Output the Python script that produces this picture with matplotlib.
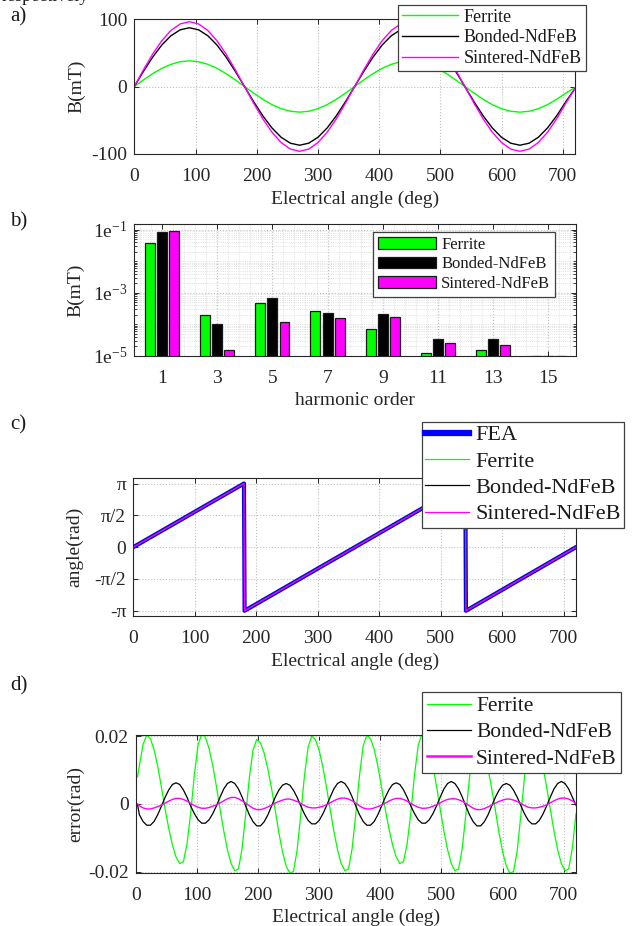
import numpy as np
import matplotlib.pyplot as plt
from matplotlib.ticker import FixedLocator, NullFormatter

plt.rcParams['font.family'] = ['Liberation Serif', 'DejaVu Serif']
plt.rcParams['axes.unicode_minus'] = False
plt.rcParams['mathtext.fontset'] = 'custom'
plt.rcParams['mathtext.rm'] = 'Liberation Serif'
plt.rcParams['mathtext.it'] = 'Liberation Serif:italic'

names = ['Ferrite', 'Bonded-NdFeB', 'Sintered-NdFeB']
colors = ['#00ff00', 'black', '#ff00ff']

# a) air-gap flux density over two electrical periods (mT)
theta_a = np.arange(0, 721, 15)
ferrite_a = [0, 9.8, 19.0, 26.9, 32.9, 36.7, 38.0, 36.7, 32.9, 26.9, 19.0, 9.8,
             0, -9.8, -19.0, -26.9, -32.9, -36.7, -38.0, -36.7, -32.9, -26.9, -19.0, -9.8,
             0, 9.8, 19.0, 26.9, 32.9, 36.7, 38.0, 36.7, 32.9, 26.9, 19.0, 9.8,
             0, -9.8, -19.0, -26.9, -32.9, -36.7, -38.0, -36.7, -32.9, -26.9, -19.0, -9.8, -1.5]
bonded_a = [0, 22.5, 43.5, 61.5, 75.3, 84.0, 87.0, 84.0, 75.3, 61.5, 43.5, 22.5,
            0, -22.5, -43.5, -61.5, -75.3, -84.0, -87.0, -84.0, -75.3, -61.5, -43.5, -22.5,
            0, 22.5, 43.5, 61.5, 75.3, 84.0, 87.0, 84.0, 75.3, 61.5, 43.5, 22.5,
            0, -22.5, -43.5, -61.5, -75.3, -84.0, -87.0, -84.0, -75.3, -61.5, -43.5, -22.5, -3.0]
sintered_a = [0, 24.8, 48.0, 67.9, 83.1, 92.7, 96.0, 92.7, 83.1, 67.9, 48.0, 24.8,
              0, -24.8, -48.0, -67.9, -83.1, -92.7, -96.0, -92.7, -83.1, -67.9, -48.0, -24.8,
              0, 24.8, 48.0, 67.9, 83.1, 92.7, 96.0, 92.7, 83.1, 67.9, 48.0, 24.8,
              0, -24.8, -48.0, -67.9, -83.1, -92.7, -96.0, -92.7, -83.1, -67.9, -48.0, -24.8, -3.0]

# b) harmonic spectrum
orders = [1, 3, 5, 7, 9, 11, 13, 15]
ferrite_b = [0.038, 1.95e-4, 4.9e-4, 2.6e-4, 7.0e-5, 1.2e-5, 1.5e-5, 1.0e-5]
bonded_b = [0.087, 1.04e-4, 6.8e-4, 2.3e-4, 2.05e-4, 3.3e-5, 3.5e-5, 1.0e-5]
sintered_b = [0.096, 1.55e-5, 1.15e-4, 1.54e-4, 1.75e-4, 2.6e-5, 2.2e-5, 1.0e-5]

# c) estimated rotor angle (wrapped), FEA reference
theta_c = [0, 180, 181, 540, 541, 720]
angle_fea = [0, np.pi, -np.pi, np.pi, -np.pi, 0]

# d) angle estimation error (rad)
theta_d = [3] + list(range(6, 721, 6))
ferrite_d = [0.0080, 0.0112, 0.0175,
             0.0203, 0.0192, 0.0160, 0.0111, 0.0050, -0.0015, -0.0072, -0.0121, -0.0157, -0.0176, -0.0171, -0.0117, -0.0025, 0.0086, 0.0174,
             0.0207, 0.0196, 0.0163, 0.0113, 0.0051, -0.0016, -0.0080, -0.0135, -0.0176, -0.0197, -0.0192, -0.0131, -0.0029, 0.0079, 0.0160,
             0.0190, 0.0180, 0.0150, 0.0104, 0.0047, -0.0017, -0.0084, -0.0141, -0.0183, -0.0205, -0.0199, -0.0136, -0.0030, 0.0083, 0.0168,
             0.0200, 0.0189, 0.0158, 0.0109, 0.0049, -0.0016, -0.0080, -0.0135, -0.0176, -0.0197, -0.0192, -0.0131, -0.0029, 0.0084, 0.0171,
             0.0203, 0.0192, 0.0161, 0.0111, 0.0050, -0.0015, -0.0072, -0.0121, -0.0157, -0.0176, -0.0170, -0.0116, -0.0025, 0.0086, 0.0173,
             0.0206, 0.0195, 0.0163, 0.0113, 0.0051, -0.0016, -0.0080, -0.0135, -0.0176, -0.0197, -0.0192, -0.0131, -0.0029, 0.0080, 0.0161,
             0.0191, 0.0180, 0.0150, 0.0104, 0.0047, -0.0017, -0.0084, -0.0141, -0.0183, -0.0205, -0.0199, -0.0136, -0.0030, 0.0083, 0.0168,
             0.0200, 0.0189, 0.0158, 0.0109, 0.0049, -0.0016, -0.0080, -0.0135, -0.0176, -0.0197, -0.0192, -0.0131, -0.0029]
bonded_d = [-0.0002,
            -0.0032, -0.0052, -0.0063, -0.0063, -0.0052, -0.0032, -0.0007, 0.0019, 0.0041, 0.0057, 0.0062, 0.0057, 0.0041, 0.0019, -0.0007,
            -0.0029, -0.0047, -0.0057, -0.0057, -0.0047, -0.0029, -0.0006, 0.0020, 0.0044, 0.0060, 0.0066, 0.0060, 0.0044, 0.0020, -0.0007,
            -0.0033, -0.0053, -0.0065, -0.0065, -0.0053, -0.0033, -0.0007, 0.0019, 0.0040, 0.0055, 0.0060, 0.0055, 0.0040, 0.0019, -0.0006,
            -0.0030, -0.0049, -0.0059, -0.0059, -0.0049, -0.0030, -0.0006, 0.0020, 0.0044, 0.0060, 0.0066, 0.0060, 0.0044, 0.0020, -0.0007,
            -0.0032, -0.0052, -0.0063, -0.0063, -0.0052, -0.0032, -0.0007, 0.0019, 0.0041, 0.0057, 0.0062, 0.0057, 0.0041, 0.0019, -0.0007,
            -0.0029, -0.0047, -0.0057, -0.0057, -0.0047, -0.0029, -0.0006, 0.0020, 0.0044, 0.0060, 0.0066, 0.0060, 0.0044, 0.0020, -0.0007,
            -0.0033, -0.0053, -0.0065, -0.0065, -0.0053, -0.0033, -0.0007, 0.0019, 0.0040, 0.0055, 0.0060, 0.0055, 0.0040, 0.0019, -0.0006,
            -0.0030, -0.0049, -0.0059, -0.0059, -0.0049, -0.0030, -0.0006, 0.0020, 0.0044, 0.0060, 0.0066, 0.0060, 0.0044, 0.0020, -0.0004]
sintered_d = [0.0000,
              -0.0006, -0.0012, -0.0015, -0.0015, -0.0012, -0.0008, -0.0004, 0.0002, 0.0008, 0.0013, 0.0016, 0.0016, 0.0013, 0.0008, 0.0001,
              -0.0005, -0.0010, -0.0013, -0.0013, -0.0011, -0.0007, -0.0003, 0.0003, 0.0009, 0.0015, 0.0019, 0.0019, 0.0015, 0.0009, 0.0002,
              -0.0006, -0.0013, -0.0017, -0.0017, -0.0014, -0.0009, -0.0004, 0.0002, 0.0007, 0.0011, 0.0014, 0.0014, 0.0011, 0.0007, 0.0001,
              -0.0005, -0.0010, -0.0012, -0.0012, -0.0010, -0.0007, -0.0003, 0.0003, 0.0009, 0.0014, 0.0017, 0.0017, 0.0014, 0.0009, 0.0002,
              -0.0006, -0.0012, -0.0015, -0.0015, -0.0012, -0.0008, -0.0004, 0.0002, 0.0008, 0.0013, 0.0016, 0.0016, 0.0013, 0.0008, 0.0001,
              -0.0005, -0.0010, -0.0013, -0.0013, -0.0011, -0.0007, -0.0003, 0.0003, 0.0009, 0.0013, 0.0015, 0.0015, 0.0012, 0.0008, 0.0001,
              -0.0006, -0.0013, -0.0017, -0.0017, -0.0014, -0.0009, -0.0004, 0.0002, 0.0007, 0.0011, 0.0014, 0.0014, 0.0011, 0.0007, 0.0001,
              -0.0005, -0.0010, -0.0012, -0.0012, -0.0010, -0.0007, -0.0003, 0.0003, 0.0009, 0.0014, 0.0017, 0.0017, 0.0014, 0.0009, 0.0000]

W, H = 633, 926
fig = plt.figure(figsize=(W / 100, H / 100), dpi=100)
dark = '0.15'
fs = 14


def px_axes(l, r, t, b):
    return fig.add_axes([l / W, 1 - b / H, (r - l) / W, (b - t) / H])


def style(ax, ylab_x):
    for s in ax.spines.values():
        s.set_color(dark)
        s.set_linewidth(0.8)
    ax.tick_params(direction='in', top=True, right=True, length=3.5, width=0.7,
                   color=dark, labelcolor=dark, labelsize=fs)
    ax.tick_params(axis='x', pad=10)
    ax.tick_params(axis='y', pad=5)
    ax.grid(True, linestyle=':', color='0.75', linewidth=0.8)
    ax.set_axisbelow(True)
    ax.yaxis.set_label_coords(ylab_x, 0.5)


def legend(ax, handles_labels, x, y, size, spacing, hlen, pad, tpad=0.3):
    h, l = handles_labels
    lg = ax.legend(h, l, loc='upper left', bbox_to_anchor=(x / W, 1 - y / H),
                   bbox_transform=fig.transFigure, borderaxespad=0, fontsize=size,
                   fancybox=False, framealpha=1, edgecolor='0.25', labelspacing=spacing,
                   handlelength=hlen, handletextpad=tpad, borderpad=pad)
    lg.get_frame().set_linewidth(0.9)
    for t in lg.get_texts():
        t.set_color('0.1')
    return lg


# ---- a)
ax1 = px_axes(134.3, 575, 19, 154)
for y, c, n in zip([ferrite_a, bonded_a, sintered_a], colors, names):
    ax1.plot(theta_a, y, color=c, lw=1.0, label=n)
ax1.set_xlim(0, 720)
ax1.set_ylim(-100, 100)
ax1.set_yticks([-100, 0, 100])
ax1.set_xticks(range(0, 701, 100))
ax1.set_xlabel('Electrical angle (deg)', fontsize=fs, color=dark, labelpad=4)
ax1.set_ylabel('B(mT)', fontsize=fs, color=dark)
style(ax1, -0.112)
legend(ax1, ax1.get_legend_handles_labels(), 398.3, 4.7, 13, 0.2, 3.1, 0.22)

# ---- b)
ax2 = px_axes(134.3, 576, 224, 355.7)
ax2.set_yscale('log')
pos = np.arange(len(orders))
for k, (v, c, n) in enumerate(zip([ferrite_b, bonded_b, sintered_b], colors, names)):
    ax2.bar(pos + (k - 1) * 0.22, v, width=0.18, bottom=1e-7, color=c,
            edgecolor='0.1', linewidth=0.9, label=n)
ax2.set_xlim(-0.5, 7.5)
ax2.set_ylim(1e-5, 0.155)
ax2.set_xticks(pos)
ax2.set_xticklabels([str(o) for o in orders])
ax2.xaxis.set_minor_locator(FixedLocator(np.arange(-0.4, 7.5, 0.2)))
ax2.yaxis.set_major_locator(FixedLocator([1e-5, 1e-3, 1e-1]))
ax2.set_yticklabels([r'$\mathregular{1e^{-5}}$', r'$\mathregular{1e^{-3}}$', r'$\mathregular{1e^{-1}}$'])
minor_y = [m * 10.0 ** e for e in range(-5, 0) for m in range(2, 10)] + [1e-4, 1e-2]
ax2.yaxis.set_minor_locator(FixedLocator(minor_y))
ax2.yaxis.set_minor_formatter(NullFormatter())
ax2.set_xlabel('harmonic order', fontsize=fs, color=dark, labelpad=4)
ax2.set_ylabel('B(mT)', fontsize=fs, color=dark)
style(ax2, -0.112)
ax2.tick_params(which='minor', direction='in', top=False, right=True, length=2, color=dark)
ax2.tick_params(axis='x', which='minor', length=0)
ax2.grid(True, which='minor', linestyle=':', color='0.84', linewidth=0.6)
h, l = ax2.get_legend_handles_labels()
lg = legend(ax2, (h, l), 372.7, 231.7, 12, 0.22, 3.5, 0.3)

# ---- c)
ax3 = px_axes(133.3, 576, 478.3, 616)
ax3.plot(theta_c, angle_fea, color='#0000ff', lw=3.0, label='FEA')
for c, n in zip(colors, names):
    ax3.plot(theta_c, angle_fea, color=c, lw=0.9, label=n)
ax3.set_xlim(0, 720)
ax3.set_ylim(-3.4, 3.4)
ax3.set_yticks([-np.pi, -np.pi / 2, 0, np.pi / 2, np.pi])
ax3.set_yticklabels(['-\u03c0', '-\u03c0/2', '0', '\u03c0/2', '\u03c0'])
ax3.set_xticks(range(0, 701, 100))
ax3.set_xlabel('Electrical angle (deg)', fontsize=fs, color=dark, labelpad=4)
ax3.set_ylabel('angle(rad)', fontsize=fs, color=dark)
style(ax3, -0.112)
h, l = ax3.get_legend_handles_labels()
lg = legend(ax3, (h, l), 421.7, 421.5, 16, 0.26, 2.0, 0.15, 0.25)
lg.get_lines()[0].set_linewidth(4.5)

# ---- d)
ax4 = px_axes(135.7, 576, 735, 872.7)
for y, c, n, w in zip([ferrite_d, bonded_d, sintered_d], colors, names, [0.9, 0.9, 1.0]):
    ax4.plot(theta_d, y, color=c, lw=w, label=n)
ax4.set_xlim(0, 720)
ax4.set_ylim(-0.0203, 0.0203)
ax4.set_yticks([-0.02, 0, 0.02])
ax4.set_yticklabels(['-0.02', '0', '0.02'])
ax4.set_xticks(range(0, 701, 100))
ax4.set_xlabel('Electrical angle (deg)', fontsize=fs, color=dark, labelpad=4)
ax4.set_ylabel('error(rad)', fontsize=fs, color=dark)
style(ax4, -0.117)
h, l = ax4.get_legend_handles_labels()
lg = legend(ax4, (h, l), 422.3, 692, 15.5, 0.28, 2.05, 0.2, 0.25)
lg.get_lines()[2].set_linewidth(1.8)

# panel letters and the clipped line of body text above
for lab, yc in zip(['a)', 'b)', 'c)', 'd)'], [17, 222, 425, 686]):
    fig.text(10 / W, 1 - yc / H, lab, fontsize=15, va='center', ha='left', color='0.1')
fig.text(2 / W, 1 - 1 / H, 'respectively', fontsize=13, va='baseline', color='0.1')

fig.savefig('out.png', dpi=100)
